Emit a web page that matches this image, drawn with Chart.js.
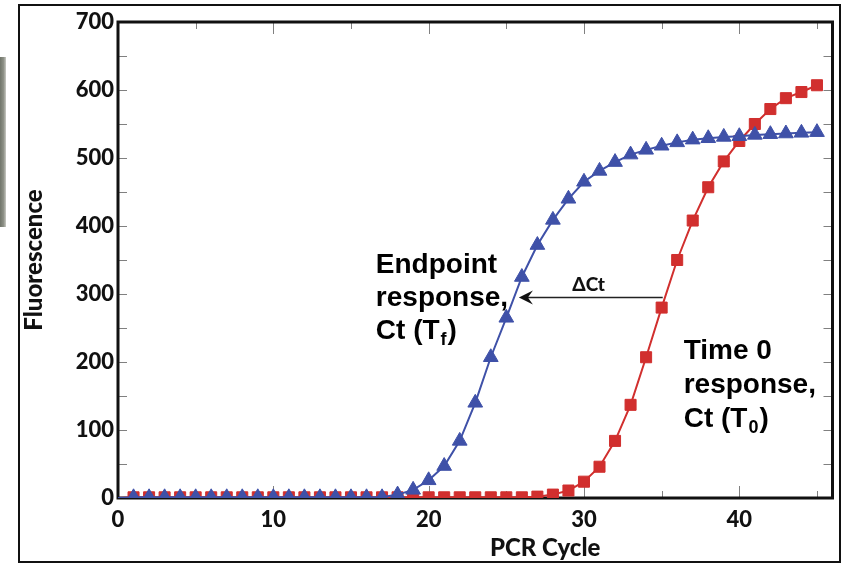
<!DOCTYPE html>
<html>
<head>
<meta charset="utf-8">
<script src="https://cdn.jsdelivr.net/npm/chart.js@4/dist/chart.umd.min.js"></script>
<style>
html,body{margin:0;padding:0;background:#fff;}
#wrap{position:relative;width:842px;height:564px;overflow:hidden;}
#outer{position:absolute;left:18px;top:4px;width:823px;height:559px;border:2px solid #111;box-sizing:border-box;}
#gray{position:absolute;left:0;top:57px;width:6px;height:170px;background:linear-gradient(to right,#70756a,#8e9187 60%,#c9cac4);}
canvas{position:absolute;left:0;top:0;}
</style>
</head>
<body>
<div id="wrap">
  <div id="outer"></div>
  <div id="gray"></div>
  <canvas id="c" width="842" height="564"></canvas>
</div>
<script>
// ---- data ----
const cycles = [0,1,2,3,4,5,6,7,8,9,10,11,12,13,14,15,16,17,18,19,20,21,22,23,24,25,26,27,28,29,30,31,32,33,34,35,36,37,38,39,40,41,42,43,44,45];
const endpointResponse = [0,1,1,1,1,1,1,1,1,1,1,1,1,1,1,1,1,1,5,12,26,47,84,140,207,265,325,372,409,440,465,481,494,505,512,518,523,527,529,531,532,534,535,536,537,538];
const time0Response = [0,1,1,1,1,1,1,1,1,1,1,1,1,1,1,1,1,1,1,1,1,1,1,1,1,1,1,2,5,11,24,46,84,137,207,280,350,408,457,495,525,550,572,588,597,607];
const xTickValues = [0,10,20,30,40];
const yTickValues = [0,100,200,300,400,500,600,700];
const xMinorStep = 5;
const yMinorStep = 50;

const BLUE = '#3f51a8';
const RED = '#d12f2e';
const tickFont = {family:'Lato', weight:'900', size:22};

const decor = {
  id:'decor',
  beforeDatasetsDraw(chart){
    const {ctx, chartArea:a, scales:{x,y}} = chart;
    ctx.save();
    ctx.strokeStyle = '#808080';
    ctx.lineWidth = 1;
    ctx.beginPath();
    for (let v = yMinorStep; v < y.max; v += yMinorStep){
      const py = Math.round(y.getPixelForValue(v)) + 0.5;
      ctx.moveTo(a.left, py); ctx.lineTo(a.left + 9, py);
      ctx.moveTo(a.right - 9, py); ctx.lineTo(a.right, py);
    }
    for (let v = xMinorStep; v < x.max; v += xMinorStep){
      const px = Math.round(x.getPixelForValue(v)) + 0.5;
      const len = (v % 10 === 0) ? 12 : 7;
      ctx.moveTo(px, a.bottom); ctx.lineTo(px, a.bottom - len);
      ctx.moveTo(px, a.top); ctx.lineTo(px, a.top + len);
    }
    ctx.stroke();
    ctx.strokeStyle = '#111';
    ctx.lineWidth = 3;
    ctx.strokeRect(a.left, a.top, a.right - a.left, a.bottom - a.top);
    ctx.restore();
  },
  afterDatasetsDraw(chart){
    const {ctx, chartArea:a, scales:{x,y}} = chart;
    ctx.save();
    ctx.fillStyle = '#000';
    ctx.textBaseline = 'alphabetic';
    ctx.textAlign = 'left';
    const big = 'bold 28px "Liberation Sans", Arial, sans-serif';
    const sub = 'bold 18px "Liberation Sans", Arial, sans-serif';
    function block(left, firstBase, step, l1, l2, l3a, l3sub){
      ctx.font = big;
      ctx.fillText(l1, left, firstBase);
      ctx.fillText(l2, left, firstBase + step);
      const b3 = firstBase + 2*step;
      ctx.fillText(l3a, left, b3);
      let w = ctx.measureText(l3a).width;
      ctx.font = sub;
      ctx.fillText(l3sub, left + w + 1, b3 + 6);
      w += ctx.measureText(l3sub).width + 2;
      ctx.font = big;
      ctx.fillText(')', left + w, b3);
    }
    block(x.getPixelForValue(16.6), y.getPixelForValue(331), 33, 'Endpoint', 'response,', 'Ct (T', 'f');
    block(x.getPixelForValue(36.42), y.getPixelForValue(205), 34, 'Time 0', 'response,', 'Ct (T', '0');

    // delta Ct arrow
    const ay = Math.round(y.getPixelForValue(295)) + 0.5;
    const x0 = x.getPixelForValue(35.07);
    const x1 = x.getPixelForValue(25.81);
    ctx.strokeStyle = '#222';
    ctx.lineWidth = 1.5;
    ctx.beginPath();
    ctx.moveTo(x0, ay); ctx.lineTo(x1 + 8, ay);
    ctx.stroke();
    ctx.fillStyle = '#111';
    ctx.beginPath();
    ctx.moveTo(x1, ay);
    ctx.lineTo(x1 + 14, ay - 7);
    ctx.lineTo(x1 + 9, ay);
    ctx.lineTo(x1 + 14, ay + 7);
    ctx.closePath();
    ctx.fill();
    ctx.font = '900 19px Lato, sans-serif';
    ctx.textAlign = 'center';
    ctx.fillText('\u0394Ct', x.getPixelForValue(30.3), ay - 7);

    // x axis title
    ctx.font = '900 24px Lato, sans-serif';
    ctx.textAlign = 'center';
    ctx.textBaseline = 'middle';
    ctx.fillStyle = '#111';
    ctx.fillText('PCR Cycle', x.getPixelForValue(27.5), 548);
    ctx.restore();
  }
};

const prTri = (ctx) => ctx.dataIndex === 0 ? 0 : 8.5;
const prSq = (ctx) => ctx.dataIndex === 0 ? 0 : 7.8;

new Chart(document.getElementById('c'), {
  type: 'line',
  data: {
    datasets: [
      {
        label: 'Endpoint response',
        data: cycles.map((c,i) => ({x:c, y:endpointResponse[i]})),
        borderColor: BLUE, backgroundColor: BLUE,
        borderWidth: 2, tension: 0,
        pointStyle: 'triangle', pointRadius: prTri, pointBorderWidth: 1,
        pointBackgroundColor: BLUE, pointBorderColor: BLUE
      },
      {
        label: 'Time 0 response',
        data: cycles.map((c,i) => ({x:c, y:time0Response[i]})),
        borderColor: RED, backgroundColor: RED,
        borderWidth: 2, tension: 0,
        pointStyle: 'rect', pointRadius: prSq, pointBorderWidth: 1,
        pointBackgroundColor: RED, pointBorderColor: RED
      }
    ]
  },
  options: {
    responsive: false,
    animation: false,
    devicePixelRatio: 1,
    layout: {padding: {left: 0, right: 4, top: 22, bottom: 0}},
    plugins: {legend: {display: false}, tooltip: {enabled: false}},
    scales: {
      x: {
        type: 'linear', min: 0, max: 46,
        afterBuildTicks: s => { s.ticks = xTickValues.map(v => ({value: v})); },
        afterFit: s => { s.height = 66; },
        grid: {display: false, drawTicks: false},
        border: {display: false},
        ticks: {font: tickFont, color: '#111', padding: 9, maxRotation: 0, autoSkip: false}
      },
      y: {
        type: 'linear', min: 0, max: 700,
        afterBuildTicks: s => { s.ticks = yTickValues.map(v => ({value: v})); },
        afterFit: s => { s.width = 118; },
        grid: {display: false, drawTicks: false},
        border: {display: false},
        ticks: {font: tickFont, color: '#111', padding: 4, autoSkip: false},
        title: {display: true, text: 'Fluorescence', color: '#111',
                font: {family: 'Lato', weight: '900', size: 24}, padding: {top: 20, bottom: 0}}
      }
    }
  },
  plugins: [decor]
});
</script>
</body>
</html>
